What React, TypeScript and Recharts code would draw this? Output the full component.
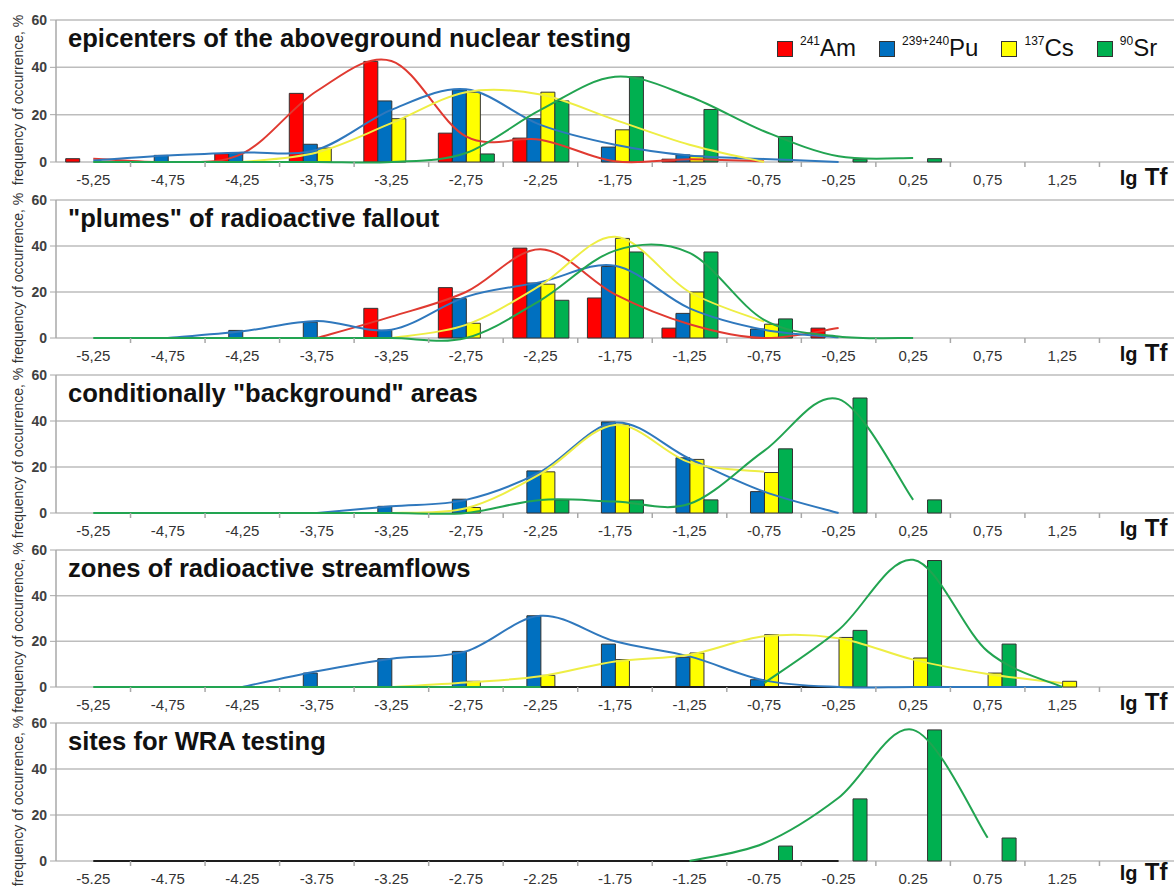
import React from "react";
import { ComposedChart, Bar, Line, XAxis, YAxis, CartesianGrid } from "recharts";

const _ = null;

// lg Tf bins; the last slot has no number, the axis title sits there
const bins = ["-5,25", "-4,75", "-4,25", "-3,75", "-3,25", "-2,75", "-2,25", "-1,75", "-1,25", "-0,75", "-0,25", "0,25", "0,75", "1,25", "1,75"];

const titles = [
  "epicenters of the aboveground nuclear testing",
  "\"plumes\" of radioactive fallout",
  "conditionally \"background\" areas",
  "zones of radioactive streamflows",
  "sites for WRA testing",
];

const isotopeMass = ["241", "239+240", "137", "90"];
const isotopeName = ["Am", "Pu", "Cs", "Sr"];
const yTitle = "frequency of occurrence, %";
const yTicks = [0, 20, 40, 60];

const none = [0, 0, 0, 0, 0, 0, 0, 0, 0, 0, 0, 0, 0, 0, 0];

// epicenters
const am1 = [1.4, 0, 3.5, 29, 42.5, 12.2, 10.1, 0, 1.2, 0, 0, 0, 0, 0, 0];
const pu1 = [0, 2.8, 3.8, 7.5, 25.8, 30.5, 18.3, 6.3, 3, 0, 0, 0, 0, 0, 0];
const cs1 = [0, 0, 0, 5.9, 18.3, 29.5, 29.5, 13.6, 2.5, 0, 0, 0, 0, 0, 0];
const sr1 = [0, 0, 0, 0, 0, 3.4, 25.8, 36, 22.2, 10.8, 1.2, 1.4, 0, 0, 0];
const amFit1 = [1.4, 0, 3.5, 30, 42.7, 10.8, 9.4, 0.3, 1.2, 0.3, _, _, _, _, _];
const puFit1 = [0.6, 2.7, 4, 5.2, 22, 30.7, 15.7, 7.3, 2.7, 1.3, 0, _, _, _, _];
const csFit1 = [_, _, 0, 4, 16.4, 29.5, 28.5, 17.8, 7.3, 0, _, _, _, _, _];
const srFit1 = [0, 0, 0, 0, 0, 3.8, 22, 36, 27.7, 13, 2.4, 1.7, _, _, _];

// plumes
const am2 = [0, 0, 0, 0, 12.9, 21.9, 39.1, 17.4, 4.3, 0, 4.3, 0, 0, 0, 0];
const pu2 = [0, 0, 3.3, 6.9, 3.3, 17.1, 23.9, 31.1, 10.7, 3.9, 0, 0, 0, 0, 0];
const cs2 = [0, 0, 0, 0, 0, 6.4, 23.4, 43.3, 20, 6, 0, 0, 0, 0, 0];
const sr2 = [0, 0, 0, 0, 0, 0, 16.4, 37.4, 37.4, 8.3, 0, 0, 0, 0, 0];
const amFit2 = [_, _, _, 0, 9.3, 20, 38.6, 19, 6, 0, 4.3, _, _, _, _];
const puFit2 = [_, 0, 2.9, 7.4, 3.6, 17.9, 24.3, 31.4, 12.9, 3.6, 0.3, _, _, _, _];
const csFit2 = [_, _, _, _, 0, 5.7, 22.9, 44, 20, 7.1, _, _, _, _, _];
const srFit2 = [0, 0, 0, 0, 0, 0, 16.4, 38, 37, 7.9, 0.7, 0, _, _, _];

// background areas
const pu3 = [0, 0, 0, 0, 2.9, 6, 18.3, 39.6, 24, 9.3, 0, 0, 0, 0, 0];
const cs3 = [0, 0, 0, 0, 0, 2.4, 17.9, 38.6, 23.3, 17.6, 0, 0, 0, 0, 0];
const sr3 = [0, 0, 0, 0, 0, 0, 5.7, 5.7, 5.7, 27.9, 50, 5.7, 0, 0, 0];
const puFit3 = [_, _, _, 0, 2.9, 5.7, 17.9, 39.3, 23.6, 9.3, 0, _, _, _, _];
const csFit3 = [_, _, _, _, 0, 2.1, 17, 38.3, 22, 17.9, _, _, _, _, _];
const srFit3 = [0, 0, 0, 0, 0, 0, 5.7, 5, 4, 27, 49.5, 5.7, _, _, _];

// streamflows
const pu4 = [0, 0, 0, 6.1, 12.4, 15.6, 31.2, 18.8, 13, 3.2, 0, 0, 0, 0, 0];
const cs4 = [0, 0, 0, 0, 0, 2.5, 5.1, 12, 14.9, 22.9, 21.7, 12.7, 6.1, 2.5, 0];
const sr4 = [0, 0, 0, 0, 0, 0, 0, 0, 0, 0, 24.8, 55.4, 18.8, 0, 0];
const puFit4 = [_, _, 0, 6.9, 12.4, 15.6, 31.2, 20, 13.4, 2.9, 0, 0, 0, 0, _];
const csFit4 = [_, _, _, _, 0, 2, 4.7, 11.2, 14.1, 22.2, 21.4, 12, 5.7, 1.7, _];
const srFit4 = [0, 0, 0, 0, 0, 0, 0, _, _, 1.7, 25, 55.7, 15.6, 0, _];
const baseFit4 = [_, _, _, _, _, _, 0, 0, 0, 0, 0, _, _, _, _];

// WRA testing sites
const sr5 = [0, 0, 0, 0, 0, 0, 0, 0, 0, 6.5, 27, 57, 10, 0, 0];
const srFit5 = [_, _, _, _, _, _, _, _, 0, 7.7, 27.5, 57, 10.1, _, _];
const baseFit5 = [0, 0, 0, 0, 0, 0, 0, 0, 0, 0, 0, _, _, _, _];

const panels = [
  { bars: [am1, pu1, cs1, sr1], fits: [amFit1, puFit1, csFit1, srFit1], base: null },
  { bars: [am2, pu2, cs2, sr2], fits: [amFit2, puFit2, csFit2, srFit2], base: null },
  { bars: [none, pu3, cs3, sr3], fits: [null, puFit3, csFit3, srFit3], base: null },
  { bars: [none, pu4, cs4, sr4], fits: [null, puFit4, csFit4, srFit4], base: baseFit4 },
  { bars: [none, none, none, sr5], fits: [null, null, null, srFit5], base: baseFit5 },
];

const keys = ["am", "pu", "cs", "sr"];
const barColors = ["#ff0000", "#0070c0", "#ffff00", "#00b050"];
const lineColors = ["#e03a31", "#2f78bd", "#eeee44", "#22a451"];

const W = 1174;
const AXIS_W = 56;
const X_AXIS_H = 30;
const CAT_W = (W - AXIS_W) / bins.length;
const panelTops = [10, 190, 365, 540, 713];
const plotHeights = [142, 138, 138, 137, 138];
const FONT = '"Liberation Sans", Arial, sans-serif';

// smoothed line like the spreadsheet one (Catmull-Rom through the points)
const excelSmooth = (ctx: any) => {
  let pts: number[][] = [];
  return {
    areaStart() {},
    areaEnd() {},
    lineStart() {
      pts = [];
    },
    lineEnd() {
      const n = pts.length;
      if (!n) return;
      ctx.moveTo(pts[0][0], pts[0][1]);
      for (let i = 0; i < n - 1; i++) {
        const a = pts[i > 0 ? i - 1 : 0];
        const b = pts[i];
        const c = pts[i + 1];
        const d = pts[i + 2 < n ? i + 2 : n - 1];
        ctx.bezierCurveTo(
          b[0] + (c[0] - a[0]) / 6,
          b[1] + (c[1] - a[1]) / 6,
          c[0] - (d[0] - b[0]) / 6,
          c[1] - (d[1] - b[1]) / 6,
          c[0],
          c[1]
        );
      }
    },
    point(x: number, y: number) {
      pts.push([+x, +y]);
    },
  };
};

function XTick(props: any) {
  const { x, y, index, payload, dot } = props;
  const last = index === bins.length - 1;
  const bx = x - CAT_W / 2;
  const label = dot ? String(payload.value).replace(",", ".") : payload.value;
  // bottom panel sits against the page edge, so its axis title is lifted a little
  const titleY = dot ? y + 11 : y + 15;
  return (
    <g>
      {index > 0 && <line x1={bx} x2={bx} y1={y - 8} y2={y - 3} stroke="#a8a8a8" strokeWidth={1.5} />}
      {last ? (
        <text y={titleY} fontFamily={FONT} fontWeight="bold" fill="#111">
          <tspan x={x - 17} fontSize={20}>lg</tspan>
          <tspan x={x + 8} fontSize={24}>Tf</tspan>
        </text>
      ) : (
        <text x={x} y={y + 15} textAnchor="middle" fontFamily={FONT} fontSize={15} fill="#333">
          {label}
        </text>
      )}
    </g>
  );
}

function YTitle(props: any) {
  const vb = props.viewBox;
  const cx = 18;
  const cy = vb.y + vb.height / 2 + 9;
  return (
    <text
      x={cx}
      y={cy}
      transform={`rotate(-90 ${cx} ${cy})`}
      textAnchor="middle"
      dominantBaseline="central"
      fontFamily={FONT}
      fontSize={14}
      fill="#333"
    >
      {yTitle}
    </text>
  );
}

function Legend() {
  return (
    <div style={{ position: "absolute", left: 777, top: 26, display: "flex", alignItems: "center", fontFamily: FONT, color: "#111" }}>
      {isotopeName.map((name, i) => (
        <div key={name} style={{ display: "flex", alignItems: "center", marginRight: 23 }}>
          <span style={{ width: 16, height: 16, background: barColors[i], border: "1px solid #333", boxSizing: "border-box", marginRight: 7, position: "relative", top: 1 }} />
          <span style={{ fontSize: 12, position: "relative", top: -7 }}>{isotopeMass[i]}</span>
          <span style={{ fontSize: 24, lineHeight: "24px" }}>{name}</span>
        </div>
      ))}
    </div>
  );
}

function Panel({ idx }: { idx: number }) {
  const p = panels[idx];
  const dot = idx === 4;
  const h = 10 + plotHeights[idx] + X_AXIS_H;
  const rows = bins.map((bin, i) => {
    const r: any = { bin, base: p.base ? p.base[i] : null };
    keys.forEach((k, s) => {
      r[k] = p.bars[s][i];
      r[k + "Fit"] = p.fits[s] ? p.fits[s]![i] : null;
    });
    return r;
  });
  return (
    <div style={{ position: "absolute", left: 0, top: panelTops[idx], width: W, height: h }}>
      <ComposedChart
        width={W}
        height={h}
        data={rows}
        margin={{ top: 10, right: 0, bottom: 0, left: 0 }}
        barCategoryGap="13%"
        barGap={0}
      >
        <CartesianGrid vertical={false} stroke="#bdbdbd" strokeWidth={1.5} />
        <XAxis
          dataKey="bin"
          interval={0}
          height={X_AXIS_H}
          tickSize={6}
          tickMargin={2}
          tickLine={false}
          axisLine={false}
          tick={(t: any) => <XTick {...t} dot={dot} />}
        />
        <YAxis
          type="number"
          domain={[0, 60]}
          ticks={yTicks}
          interval={0}
          width={AXIS_W}
          tickSize={6}
          tickMargin={3}
          axisLine={{ stroke: "#a8a8a8", strokeWidth: 1.5 }}
          tickLine={{ stroke: "#a8a8a8" }}
          tick={{ fontSize: 14, fontWeight: "bold", fill: "#404040", fontFamily: FONT }}
          label={(lp: any) => <YTitle {...lp} />}
        />
        {keys.map((k, s) => (
          <Bar key={k} dataKey={k} fill={barColors[s]} stroke="#333" strokeWidth={1} isAnimationActive={false} />
        ))}
        {p.base && (
          <Line dataKey="base" type="linear" stroke="#1e1e1e" strokeWidth={2} dot={false} activeDot={false} isAnimationActive={false} />
        )}
        {keys.map((k, s) =>
          p.fits[s] ? (
            <Line
              key={k + "Fit"}
              dataKey={k + "Fit"}
              type={excelSmooth as any}
              stroke={lineColors[s]}
              strokeWidth={2}
              dot={false}
              activeDot={false}
              isAnimationActive={false}
            />
          ) : null
        )}
      </ComposedChart>
      <div
        style={{
          position: "absolute",
          left: 68,
          top: 16,
          fontFamily: FONT,
          fontSize: 25.6,
          lineHeight: "25px",
          fontWeight: "bold",
          color: "#111",
          whiteSpace: "nowrap",
        }}
      >
        {titles[idx]}
      </div>
      {idx === 0 && <Legend />}
    </div>
  );
}

export default function App() {
  return (
    <div style={{ position: "absolute", left: 0, top: 0, width: W, height: 886, background: "#fff", overflow: "hidden" }}>
      {panels.map((_p, i) => (
        <Panel key={i} idx={i} />
      ))}
    </div>
  );
}
